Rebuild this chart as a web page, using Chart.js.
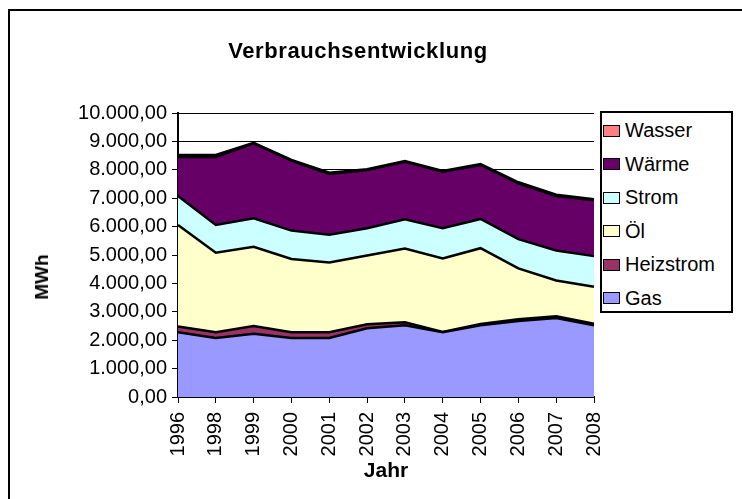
<!DOCTYPE html>
<html>
<head>
<meta charset="utf-8">
<script src="https://cdn.jsdelivr.net/npm/chart.js@4"></script>
<style>
  body { margin: 0; background: #fff; width: 742px; height: 499px; overflow: hidden; position: relative; font-family: 'Liberation Sans', Arial, sans-serif; }
  #frame { position: absolute; left: 8px; top: 9px; width: 800px; height: 600px; border: 2px solid #000; }
  #chartTitle { position: absolute; left: 0; top: 38px; width: 716px; text-align: center; font-weight: bold; font-size: 22px; letter-spacing: 0.6px; line-height: 26px; }
  #yTitle { position: absolute; left: 42px; top: 277px; font-weight: bold; font-size: 19px; transform: translate(-50%, -50%) rotate(-90deg); white-space: nowrap; }
  #legend { position: absolute; left: 600px; top: 111px; width: 129px; height: 197px; border: 2px solid #000; padding-top: 1px; background: #fff; }
  .row { display: flex; align-items: center; height: 33.5px; font-size: 20px; }
  .swatch { width: 15px; height: 10px; border: 1.5px solid #000; margin-left: 1px; margin-right: 5px; }
  canvas { position: absolute; left: 0; top: 0; }
</style>
</head>
<body>
<div id="frame"></div>
<canvas id="chart" width="742" height="499"></canvas>
<div id="chartTitle">Verbrauchsentwicklung</div>
<div id="yTitle">MWh</div>
<div id="legend"></div>
<script>
const years = ['1996', '1998', '1999', '2000', '2001', '2002', '2003', '2004', '2005', '2006', '2007', '2008'];

// stacked from bottom to top
const gas       = [2280, 2080, 2230, 2080, 2080, 2420, 2530, 2280, 2530, 2680, 2780, 2530];
const heizstrom = [200, 200, 270, 200, 200, 140, 100, 10, 40, 60, 60, 50];
const oel       = [3580, 2800, 2790, 2580, 2460, 2420, 2600, 2590, 2670, 1790, 1260, 1300];
const strom     = [1020, 980, 1000, 1000, 970, 960, 1030, 1060, 1030, 1030, 1060, 1080];
const waerme    = [1370, 2390, 2640, 2460, 2140, 2050, 2020, 1990, 1900, 1960, 1920, 1970];
const wasser    = [70, 70, 20, 30, 50, 30, 30, 30, 30, 40, 40, 30];

const seriesNames  = ['Gas', 'Heizstrom', 'Öl', 'Strom', 'Wärme', 'Wasser'];
const seriesData   = [gas, heizstrom, oel, strom, waerme, wasser];
const seriesColors = ['#9999FF', '#993366', '#FFFFCC', '#CCFFFF', '#660066', '#FF8080'];

function deFormat(v) {
    const s = Math.round(v).toString().replace(/\B(?=(\d{3})+(?!\d))/g, '.');
    return s + ',00';
}

// legend, top entry is the top area
const legend = document.getElementById('legend');
for (let i = seriesNames.length - 1; i >= 0; i--) {
    const row = document.createElement('div');
    row.className = 'row';
    row.innerHTML = `<span class="swatch" style="background:${seriesColors[i]}"></span><span>${seriesNames[i]}</span>`;
    legend.appendChild(row);
}

Chart.defaults.font.family = "'Liberation Sans', Arial, sans-serif";
Chart.defaults.color = '#000';

const ctx = document.getElementById('chart').getContext('2d');
new Chart(ctx, {
    type: 'line',
    data: {
        labels: years,
        datasets: seriesNames.map((name, i) => ({
            label: name,
            data: seriesData[i],
            backgroundColor: seriesColors[i],
            borderColor: '#000',
            borderWidth: 2.5,
            pointRadius: 0,
            tension: 0,
            fill: i === 0 ? 'origin' : '-1'
        }))
    },
    options: {
        responsive: false,
        animation: false,
        devicePixelRatio: 1,
        layout: { padding: { left: 60, top: 113, right: 148, bottom: 0 } },
        plugins: {
            legend: { display: false },
            title: { display: false },
            tooltip: { enabled: false }
        },
        scales: {
            x: {
                afterFit: scale => { scale.height = 102; },
                grid: { drawOnChartArea: false, drawTicks: true, tickLength: 6, color: '#000', lineWidth: 1 },
                border: { display: true, color: '#000', width: 2 },
                ticks: { autoSkip: false, minRotation: 90, maxRotation: 90, padding: 9, font: { size: 20 } },
                title: { display: true, text: 'Jahr', font: { size: 21, weight: 'bold' }, padding: { top: 0, bottom: 15 } }
            },
            y: {
                stacked: true,
                min: 0,
                max: 10000,
                afterFit: scale => { scale.width = 118; },
                grid: { color: '#000', lineWidth: 1, drawTicks: true, tickLength: 6 },
                border: { display: true, color: '#000', width: 2 },
                ticks: { stepSize: 1000, padding: 5, font: { size: 20 }, callback: v => deFormat(v) }
            }
        }
    }
});
</script>
</body>
</html>
